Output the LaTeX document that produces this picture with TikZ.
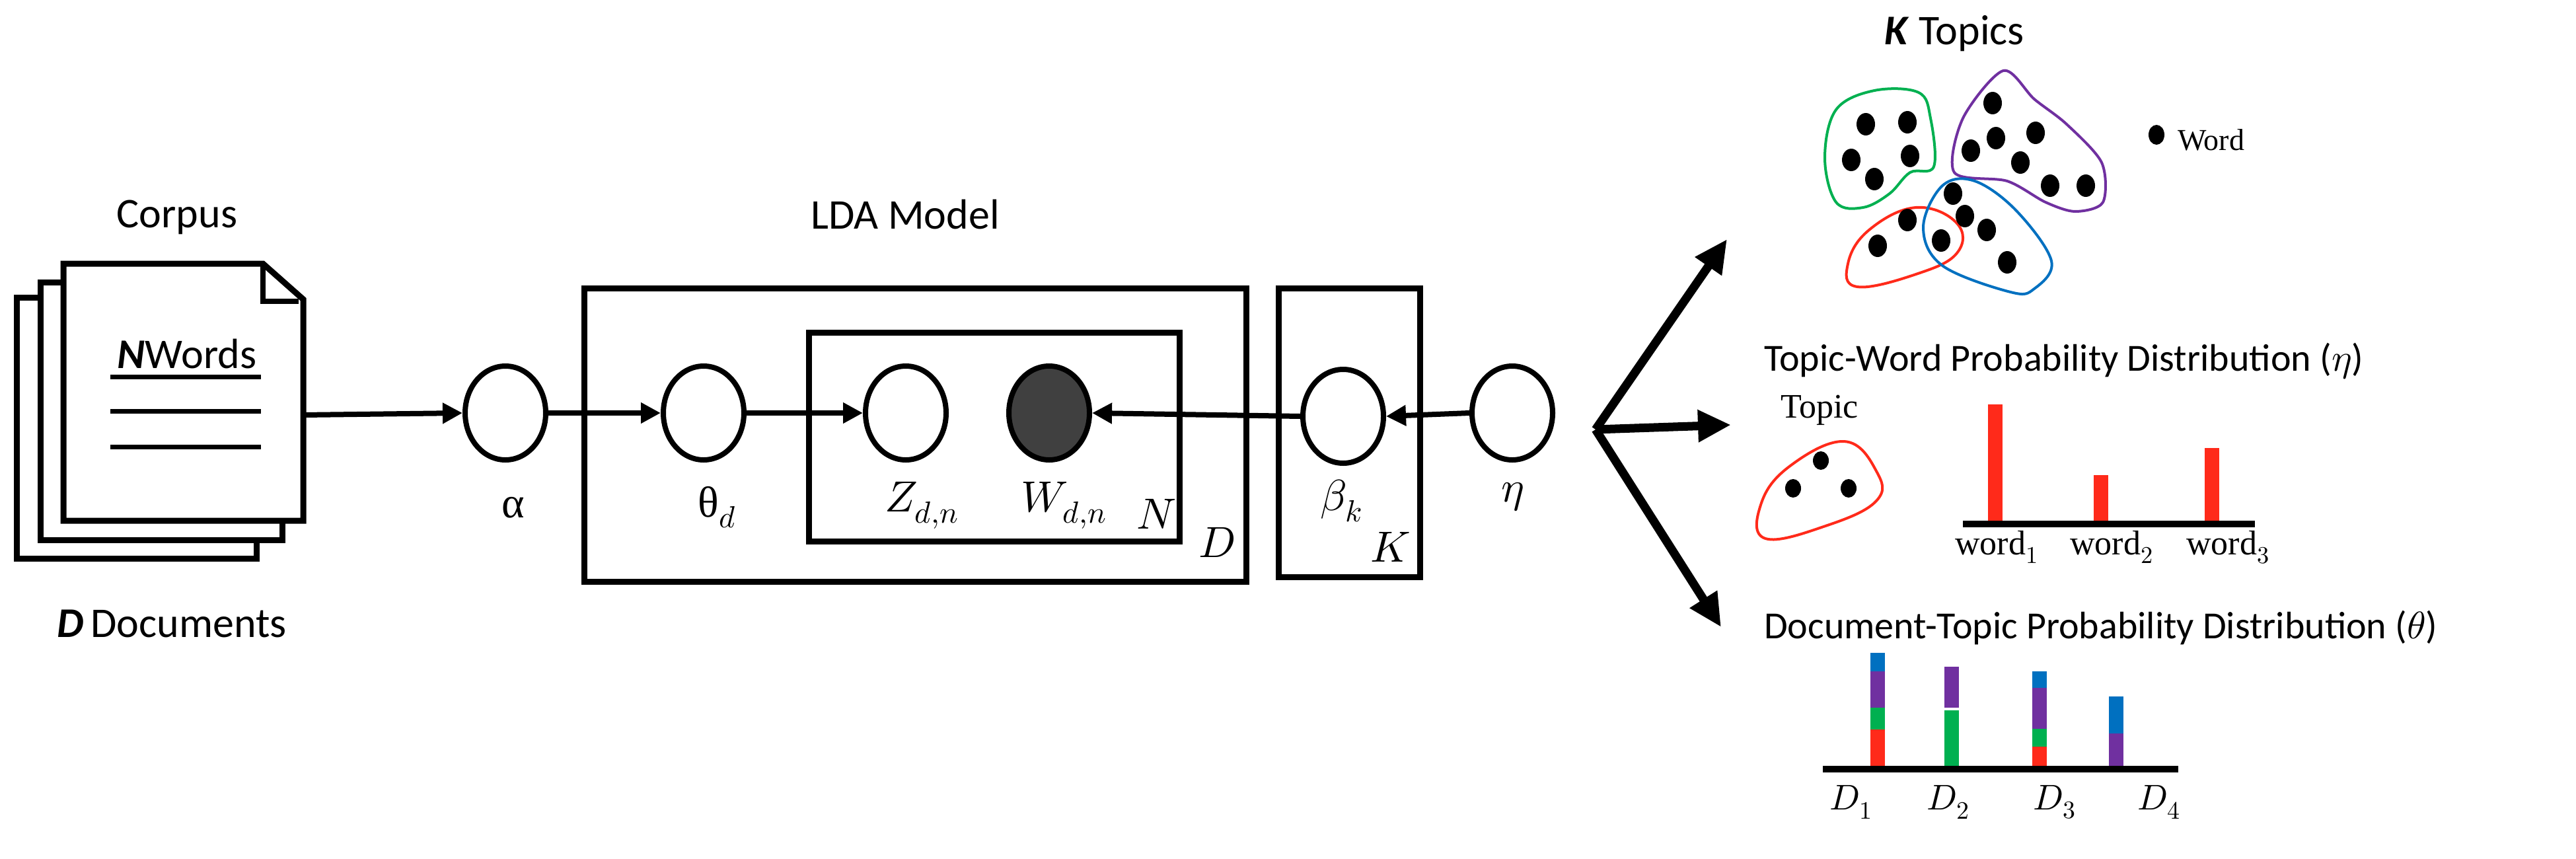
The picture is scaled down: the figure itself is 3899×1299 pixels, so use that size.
\documentclass[tikz,border=0pt]{standalone}
\usepackage{fontspec}
\usepackage{unicode-math}
\setmainfont{Carlito}
\setmathfont{Latin Modern Math}
\newfontfamily\seriff{Liberation Serif}
\usetikzlibrary{shapes.geometric,arrows.meta}
\definecolor{cred}{HTML}{FF2A1A}
\definecolor{cgreen}{HTML}{00B050}
\definecolor{cpurple}{HTML}{7030A0}
\definecolor{cblue}{HTML}{0070C0}
\definecolor{wfill}{HTML}{404040}
\tikzset{
  lw/.style={line width=9pt},
  var/.style={ellipse,draw,line width=8pt,minimum width=122pt,minimum height=142pt,inner sep=0pt},
  lab/.style={font=\fontsize{64}{70}\selectfont,inner sep=0pt},
  mlab/.style={font=\fontsize{66}{70}\selectfont,inner sep=0pt},
  head/.style={font=\fontsize{58}{64}\selectfont,inner sep=0pt,anchor=west},
  arr/.style={line width=8pt,-{Triangle[length=30pt,width=30pt]}},
  fan/.style={line width=13pt,-{Triangle[length=50pt,width=46pt]}},
  blob/.style={line width=4pt},
}
\begin{document}
\begin{tikzpicture}[x=1pt,y=-1pt]
\useasboundingbox (0,0) rectangle (3899,1299);
% corpus
\draw[lw,fill=white] (25,450) rectangle (388,845);
\draw[lw,fill=white] (61,427) rectangle (427,817);
\draw[lw,fill=white,line join=miter] (96,399) -- (398,399) -- (459,453) -- (459,788) -- (96,788) -- cycle;
\draw[line width=8pt,line join=miter] (398,399) -- (398,456) -- (452,456);
\node[lab] (corpus) at (268,329) {Corpus};
\node[lab] (nwords) at (283,536) {\textbf{\textit{N}}Words};
\draw[line width=7pt] (167,570) -- (395,570);
\draw[line width=7pt] (167,622) -- (395,622);
\draw[line width=7pt] (167,676) -- (395,676);
\node[lab] (ddocs) at (260,944) {\textbf{\textit{D}}\,Documents};
\coordinate (corpusout) at (459,628);
% LDA
\node[lab] (lda) at (1370,324) {LDA Model};
\draw[lw] (884,436) rectangle (1886,880);
\draw[lw] (1224,503) rectangle (1785,819);
\draw[lw] (1935,436) rectangle (2149,873);
\node[var,fill=white] (alpha) at (765,625) {};
\node[var,fill=white] (theta) at (1065,625) {};
\node[var,fill=white] (z) at (1371,625) {};
\node[var,fill=wfill] (w) at (1588,625) {};
\node[var,fill=white] (beta) at (2033,630) {};
\node[var,fill=white] (eta) at (2289,625) {};
\node[mlab] (la) at (777,768) {{\seriff α}};
\node[mlab] (lt) at (1085,768) {{\seriff θ}$_{d}$};
\node[mlab] (lz) at (1395,765) {$Z_{d,n}$};
\node[mlab] (lw) at (1610,765) {$W_{d,n}$};
\node[mlab] (ln) at (1750,778) {$N$};
\node[mlab] (ld) at (1842,821) {$D$};
\node[mlab] (lb) at (2030,758) {$\beta_k$};
\node[mlab] (le) at (2290,752) {$\eta$};
\node[mlab] (lk) at (2105,828) {$K$};
\draw[arr] (corpusout) -- (alpha.west);
\draw[arr] (alpha.east) -- (theta.west);
\draw[arr] (theta.east) -- (z.west);
\draw[arr] (beta.west) -- (w.east);
\draw[arr] (eta.west) -- (beta.east);
% fan
\coordinate (fo) at (2415,650);
\coordinate (fu) at (2614,362);
\coordinate (fr) at (2620,643);
\coordinate (fd) at (2605,949);
\draw[fan] (fo) -- (fu);
\draw[fan] (fo) -- (fr);
\draw[fan] (fo) -- (fd);
% K topics
\node[lab] (kt) at (2958,51) {\textbf{\textit{K}} Topics};
\draw[blob,cgreen] plot[smooth cycle,tension=0.6] coordinates {(2837,137) (2904,140) (2922,179) (2927,252) (2891,261) (2860,293) (2820,314) (2779,306) (2762,239) (2779,166)};
\draw[blob,cpurple] plot[smooth cycle,tension=0.5] coordinates {(3032,107) (3079,150) (3128,188) (3181,246) (3183,306) (3141,320) (3096,306) (3038,274) (2958,261) (2971,179)};
\draw[blob,cred] plot[smooth cycle,tension=0.7] coordinates {(2900,314) (2962,338) (2962,383) (2900,415) (2811,434) (2797,399) (2829,348)};
\draw[blob,cblue] plot[smooth cycle,tension=0.6] coordinates {(2940,281) (2989,274) (3052,319) (3105,395) (3079,437) (3043,442) (2940,402) (2911,344)};
\foreach \p in {(2824,188),(2887,185),(2802,242),(2891,236),(2837,271),
  (3016,156),(3021,209),(2983,228),(3081,201),(3058,246),(3103,281),(3157,281),
  (2842,372),(2887,333),
  (2956,293),(2974,327),(3007,348),(3038,397),(2938,364)}
  \fill \p ellipse [x radius=14, y radius=17];
\fill (3264,204) ellipse [x radius=12, y radius=15];
\node[inner sep=0pt,anchor=west,font=\seriff\fontsize{46}{50}\selectfont] (word) at (3296,212) {Word};
% topic-word
\node[head] (h1) at (2670,547) {Topic-Word Probability Distribution ($\eta$)};
\node[inner sep=0pt,font=\seriff\fontsize{52}{56}\selectfont] (topic) at (2754,621) {Topic};
\draw[blob,cred] plot[smooth cycle,tension=0.7] coordinates {(2791,668) (2840,713) (2840,758) (2763,796) (2672,815) (2665,764) (2707,707)};
\fill (2756,697) ellipse [x radius=12, y radius=14];
\fill (2714,739) ellipse [x radius=12, y radius=14];
\fill (2798,739) ellipse [x radius=12, y radius=14];
\fill[cred] (3009,612) rectangle (3031,793);
\fill[cred] (3169,719) rectangle (3191,793);
\fill[cred] (3337,678) rectangle (3359,793);
\draw[line width=10pt] (2971,793) -- (3413,793);
\node[inner sep=0pt,font=\seriff\fontsize{52}{56}\selectfont] (w1) at (3022,828) {word$_1$};
\node[inner sep=0pt,font=\seriff\fontsize{52}{56}\selectfont] (w2) at (3196,828) {word$_2$};
\node[inner sep=0pt,font=\seriff\fontsize{52}{56}\selectfont] (w3) at (3372,828) {word$_3$};
% document-topic
\node[head] (h2) at (2670,950) {Document-Topic Probability Distribution ($\theta$)};
\fill[cred] (2831,1104) rectangle (2853,1160);
\fill[cgreen] (2831,1071) rectangle (2853,1104);
\fill[cpurple] (2831,1016) rectangle (2853,1071);
\fill[cblue] (2831,988) rectangle (2853,1016);
\fill[cgreen] (2943,1075) rectangle (2965,1160);
\fill[cpurple] (2943,1009) rectangle (2965,1071);
\fill[cred] (3076,1130) rectangle (3098,1160);
\fill[cgreen] (3076,1103) rectangle (3098,1130);
\fill[cpurple] (3076,1041) rectangle (3098,1103);
\fill[cblue] (3076,1016) rectangle (3098,1041);
\fill[cpurple] (3192,1110) rectangle (3214,1160);
\fill[cblue] (3192,1054) rectangle (3214,1110);
\draw[line width=10pt] (2759,1164) -- (3297,1164);
\node[mlab,font=\fontsize{54}{58}\selectfont] (d1) at (2802,1214) {$D_1$};
\node[mlab,font=\fontsize{54}{58}\selectfont] (d2) at (2949,1214) {$D_2$};
\node[mlab,font=\fontsize{54}{58}\selectfont] (d3) at (3110,1214) {$D_3$};
\node[mlab,font=\fontsize{54}{58}\selectfont] (d4) at (3268,1214) {$D_4$};
\end{tikzpicture}
\end{document}
